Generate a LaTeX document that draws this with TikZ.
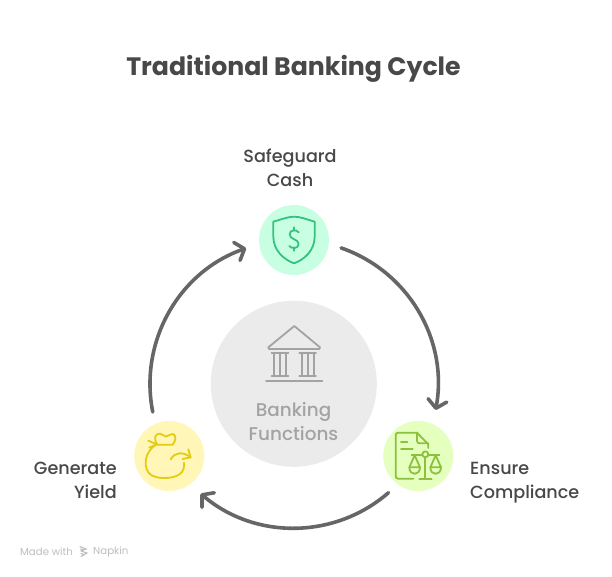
\documentclass[tikz,border=0pt]{standalone}
\usepackage{fontspec}
\setmainfont{Poppins}
\newfontfamily\medfont{Poppins Medium}
\usetikzlibrary{arrows.meta,calc}
\definecolor{ink}{HTML}{484848}
\definecolor{arrowc}{HTML}{666666}
\definecolor{hubfill}{HTML}{EBEBEB}
\definecolor{hubline}{HTML}{A3A3A3}
\definecolor{mintfill}{HTML}{C8FFE3}
\definecolor{mintline}{HTML}{34C27E}
\definecolor{yelfill}{HTML}{FFF6B8}
\definecolor{yelline}{HTML}{E3CC12}
\definecolor{limefill}{HTML}{E4FFBE}
\definecolor{limeline}{HTML}{8DC03C}
\definecolor{markc}{HTML}{BEBEBE}
\tikzset{
  disc/.style={circle,inner sep=0pt,minimum size=70pt},
  cyc/.style={draw=arrowc,line width=3.6pt,line cap=round,-{Straight Barb[length=8pt,width=19pt,line width=3.6pt,round]}},
  lab/.style={text=ink,font=\medfont\fontsize{17.6}{24}\selectfont,inner sep=0pt},
  ico/.style={line width=1.8pt,line cap=round,line join=round},
  zoomed/.style={x=0.3333pt,y=-0.3333pt},
  brand/.style={inner sep=0pt,anchor=west,text=markc,font=\fontsize{10.2}{11}\selectfont}
}
\begin{document}
\begin{tikzpicture}[x=1pt,y=-1pt]
\useasboundingbox (0,0) rectangle (612,576);
\fill[white] (0,0) rectangle (612,576);
\node[text=ink,inner sep=0pt,font=\fontsize{25.2}{30}\selectfont\bfseries] (title) at (293.5,69) {Traditional Banking Cycle};
\node[circle,fill=hubfill,inner sep=0pt,minimum size=166pt] (hub) at (293.8,383.8) {};
\node[disc,fill=mintfill] (safe) at (294,240) {};
\node[disc,fill=yelfill] (yield) at (169.3,456) {};
\node[disc,fill=limefill] (comp) at (418.3,456) {};
\coordinate (ring) at (294,384);
\coordinate (a1) at ($(ring)+(-70.9:144)$);
\coordinate (a2) at ($(ring)+(49:144)$);
\coordinate (a3) at ($(ring)+(168.8:144)$);
\draw[cyc] (a1) arc[start angle=-70.9,end angle=10.4,radius=144];
\draw[cyc] (a2) arc[start angle=49,end angle=130.4,radius=144];
\draw[cyc] (a3) arc[start angle=168.8,end angle=250.6,radius=144];
% labels
\node[lab,align=center] (lsafe) at (290,168) {Safeguard\\Cash};
\node[lab,align=right,anchor=east] (lyield) at (117,480.5) {Generate\\Yield};
\node[lab,align=left,anchor=west] (lcomp) at (470,483) {Ensure\\Compliance};
\node[inner sep=0pt,align=center,text=hubline,font=\medfont\fontsize{18.4}{24}\selectfont] (lhub) at (293.5,421.5) {Banking\\Functions};
\node[brand] (made) at (20,551.5) {Made with};
\node[brand] (napk) at (93,551.5) {Napkin};
\draw[markc,line width=1.1pt,line cap=round] (80,546.5)--(86,549)--(81,551) (81,551)--(87,553)--(81,556.5) (80.5,549)--(84,550) (81,553.5)--(84,554.5);
% shield
\begin{scope}[shift={(240,190)},zoomed,ico,draw=mintline]
\draw (100,95) .. controls (125,88) and (145,80) .. (162,80) .. controls (180,80) and (200,88) .. (224,95) -- (224,140) .. controls (224,180) and (195,208) .. (162,220) .. controls (130,208) and (100,180) .. (100,140) -- cycle;
\draw (176,127) .. controls (170,118) and (150,118) .. (149,132) .. controls (148,150) and (176,146) .. (176,162) .. controls (176,178) and (152,176) .. (148,168);
\draw (162,112)--(162,122) (162,172)--(162,182);
\end{scope}
% bank
\begin{scope}[shift={(210,300)},zoomed,ico,draw=hubline]
\draw (253,78) -- (175,142) -- (177,147) -- (328,147) -- (330,142) -- cycle;
\draw (185,160)--(235,160) (185,229)--(235,229) (193,160)--(193,229) (210,160)--(210,229) (228,160)--(228,229);
\draw (268,160)--(318,160) (268,229)--(318,229) (276,160)--(276,229) (293,160)--(293,229) (311,160)--(311,229);
\draw (168,243)--(337,243);
\end{scope}
% bag
\begin{scope}[shift={(120,410)},zoomed,ico,draw=yelline]
\draw (112,104) .. controls (100,85) and (105,70) .. (120,71) .. controls (130,72) and (132,80) .. (138,80) .. controls (145,80) and (150,70) .. (158,72) .. controls (170,75) and (168,92) .. (158,104) -- (112,104) ;
\draw (108,104) .. controls (75,125) and (70,165) .. (85,187) .. controls (100,210) and (160,208) .. (180,192) .. controls (192,182) and (193,170) .. (192,158);
\draw (85,92)--(110,103) (88,113)--(110,103);
\draw (152,148) .. controls (165,125) and (190,125) .. (212,142);
\draw (205,118)--(212,142)--(188,147);
\end{scope}
% doc + scales
\begin{scope}[shift={(370,410)},zoomed,ico,draw=limeline]
\draw (130,206)--(85,206) .. controls (79,206) and (77,203) .. (77,198) -- (77,76) .. controls (77,71) and (79,68) .. (85,68) -- (141,68) -- (175,103) -- (175,114);
\draw (141,68)--(141,92) .. controls (141,98) and (144,100) .. (150,100) -- (175,100);
\draw (93,97)--(112,97) (93,117)--(128,117);
\draw (125,134)--(157,134) (175,134)--(208,134);
\draw (166,133) circle[radius=9];
\draw (166,142)--(166,206) (148,207)--(185,207);
\draw (134,136)--(118,172)--(150,172)--cycle;
\draw (118,172) .. controls (118,198) and (150,198) .. (150,172);
\draw (197,136)--(181,172)--(213,172)--cycle;
\draw (181,172) .. controls (181,198) and (213,198) .. (213,172);
\end{scope}
\end{tikzpicture}
\end{document}
